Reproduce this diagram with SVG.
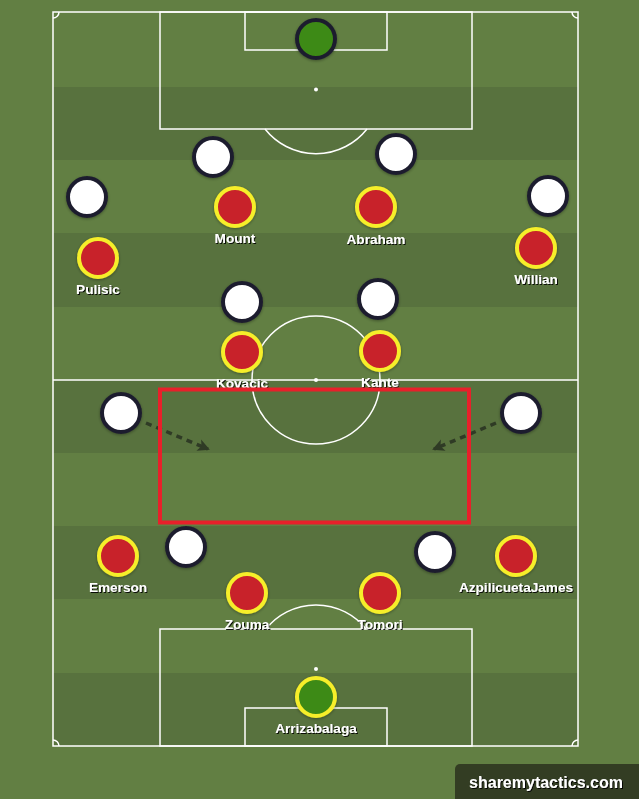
<svg xmlns="http://www.w3.org/2000/svg" width="639" height="799" viewBox="0 0 639 799">
<style>
.line{fill:none;stroke:#ffffff;stroke-width:1.5}
.dark{fill:#58723e}
.p circle{stroke-width:4}
.white{fill:#ffffff;stroke:#1e1e2e}
.red{fill:#c8222c;stroke:#f6ee2a}
.gk{fill:#3d8a13}
.lbl{font-family:"Liberation Sans",Arial,sans-serif;font-weight:bold;font-size:13.6px;fill:#ffffff;text-anchor:middle;filter:url(#ts)}
.arrow{fill:none;stroke:#2f3b25;stroke-width:3.5;stroke-dasharray:6 5}
</style>
<defs>
<filter id="ts" x="-20%" y="-40%" width="140%" height="180%">
<feDropShadow dx="1" dy="1" stdDeviation="0.4" flood-color="#000000" flood-opacity="0.9"/>
</filter>
<filter id="cs" x="-30%" y="-30%" width="160%" height="160%">
<feDropShadow dx="0" dy="1" stdDeviation="1.5" flood-color="#000000" flood-opacity="0.35"/>
</filter>
<marker id="ah" markerWidth="14" markerHeight="14" refX="11" refY="7" orient="auto" markerUnits="userSpaceOnUse" viewBox="0 0 14 14">
<path d="M1,1 L13,7 L1,13 L4,7 Z" fill="#2f3b25"/>
</marker>
</defs>
<g id="pitch">
<rect x="0" y="0" width="639" height="799" fill="#627f43"/>
<rect class="dark" x="53" y="87" width="525" height="73"/>
<rect class="dark" x="53" y="233" width="525" height="74"/>
<rect class="dark" x="53" y="380" width="525" height="73"/>
<rect class="dark" x="53" y="526" width="525" height="73"/>
<rect class="dark" x="53" y="673" width="525" height="73"/>
<rect class="line" x="53" y="12" width="525" height="734"/>
<line class="line" x1="53" y1="380" x2="578" y2="380"/>
<circle class="line" cx="316" cy="380" r="64"/>
<circle cx="316" cy="380" r="2" fill="#ffffff"/>
<rect class="line" x="160" y="12" width="312" height="117"/>
<rect class="line" x="245" y="12" width="142" height="38"/>
<circle cx="316" cy="89.5" r="2" fill="#ffffff"/>
<path class="line" d="M265,129 A65,65 0 0 0 367,129"/>
<rect class="line" x="160" y="629" width="312" height="117"/>
<rect class="line" x="245" y="708" width="142" height="38"/>
<circle cx="316" cy="669" r="2" fill="#ffffff"/>
<path class="line" d="M266,629 A64,64 0 0 1 366,629"/>
<path class="line" d="M53,18 A6,6 0 0 0 59,12"/>
<path class="line" d="M572,12 A6,6 0 0 0 578,18"/>
<path class="line" d="M53,740 A6,6 0 0 1 59,746"/>
<path class="line" d="M572,746 A6,6 0 0 1 578,740"/>
</g>
<g id="players" class="p" filter="url(#cs)">
<g id="gk-top"><circle class="gk" stroke="#1e1e2e" cx="316" cy="39" r="19"/></g>
<g id="opp-1"><circle class="white" cx="213" cy="157" r="19"/></g>
<g id="opp-2"><circle class="white" cx="396" cy="154" r="19"/></g>
<g id="opp-3"><circle class="white" cx="87" cy="197" r="19"/></g>
<g id="opp-4"><circle class="white" cx="548" cy="196" r="19"/></g>
<g id="opp-5"><circle class="white" cx="242" cy="302" r="19"/></g>
<g id="opp-6"><circle class="white" cx="378" cy="299" r="19"/></g>
<g id="opp-7"><circle class="white" cx="121" cy="413" r="19"/></g>
<g id="opp-8"><circle class="white" cx="521" cy="413" r="19"/></g>
<g id="opp-9"><circle class="white" cx="186" cy="547" r="19"/></g>
<g id="opp-10"><circle class="white" cx="435" cy="552" r="19"/></g>
<g id="mount"><circle class="red" cx="235" cy="207" r="19"/></g>
<g id="abraham"><circle class="red" cx="376" cy="207" r="19"/></g>
<g id="pulisic"><circle class="red" cx="98" cy="258" r="19"/></g>
<g id="willian"><circle class="red" cx="536" cy="248" r="19"/></g>
<g id="kovacic"><circle class="red" cx="242" cy="352" r="19"/></g>
<g id="kante"><circle class="red" cx="380" cy="351" r="19"/></g>
<g id="emerson"><circle class="red" cx="118" cy="556" r="19"/></g>
<g id="azpilicueta"><circle class="red" cx="516" cy="556" r="19"/></g>
<g id="zouma"><circle class="red" cx="247" cy="593" r="19"/></g>
<g id="tomori"><circle class="red" cx="380" cy="593" r="19"/></g>
<g id="arrizabalaga"><circle class="gk" stroke="#f6ee2a" cx="316" cy="697" r="19"/></g>
</g>
<g id="labels">
<text class="lbl" x="235" y="243">Mount</text>
<text class="lbl" x="376" y="244">Abraham</text>
<text class="lbl" x="98" y="294">Pulisic</text>
<text class="lbl" x="536" y="284">Willian</text>
<text class="lbl" x="242" y="388">Kovacic</text>
<text class="lbl" x="380" y="387">Kante</text>
<text class="lbl" x="118" y="592">Emerson</text>
<text class="lbl" x="516" y="592">AzpilicuetaJames</text>
<text class="lbl" x="247" y="629">Zouma</text>
<text class="lbl" x="380" y="629">Tomori</text>
<text class="lbl" x="316" y="733">Arrizabalaga</text>
</g>
<g id="connectors">
<line class="arrow" x1="146" y1="423" x2="208" y2="449" marker-end="url(#ah)"/>
<line class="arrow" x1="496" y1="423" x2="434" y2="449" marker-end="url(#ah)"/>
</g>
<g id="highlight">
<rect x="160" y="389.5" width="309" height="133" fill="none" stroke="#e8202a" stroke-width="4"/>
</g>
<g id="brand">
<path d="M455,799 V769 A5,5 0 0 1 460,764 H639 V799 Z" fill="#333d23"/>
<text x="546" y="788" font-family="'Liberation Sans',Arial,sans-serif" font-weight="bold" font-size="16" fill="#ffffff" text-anchor="middle" filter="url(#ts)">sharemytactics.com</text>
</g>
</svg>
